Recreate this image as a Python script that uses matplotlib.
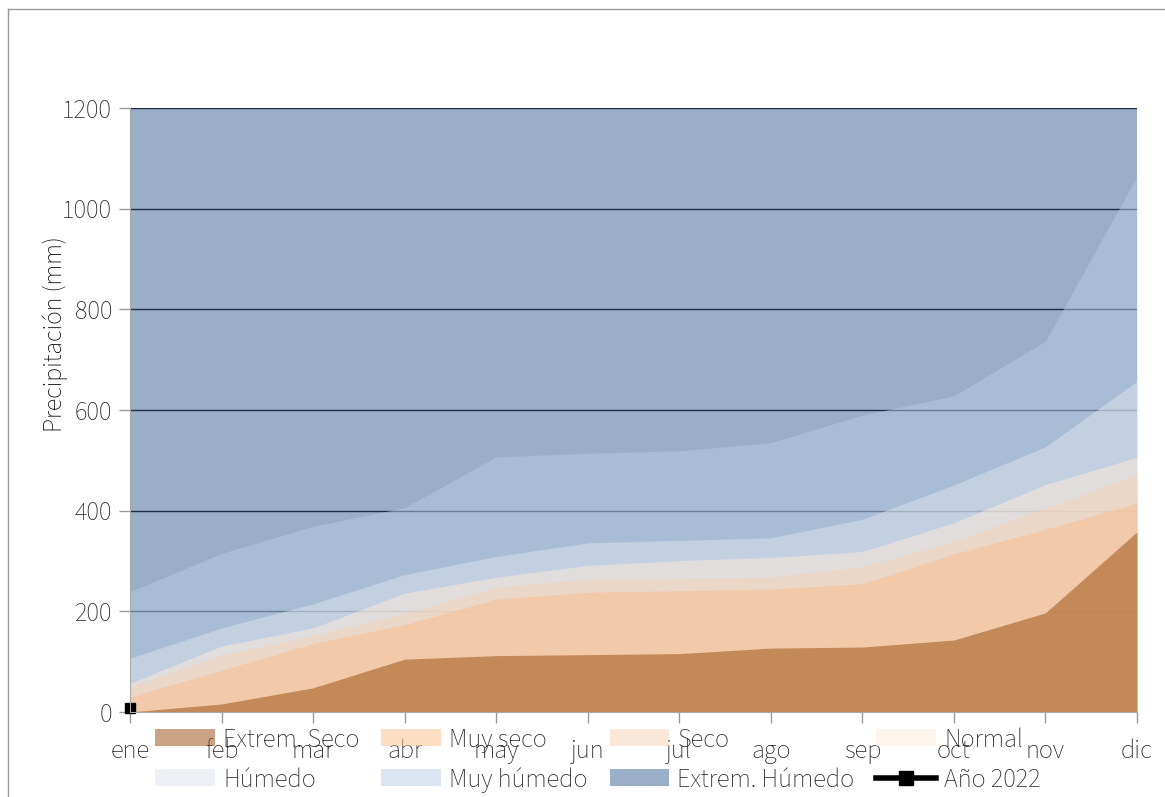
import matplotlib

matplotlib.use("Agg")
import matplotlib.pyplot as plt
from matplotlib.lines import Line2D
from matplotlib.patches import Patch

# ---------------------------------------------------------------------------
# Data (mm, each band measured from zero)
# ---------------------------------------------------------------------------

months = ["ene", "feb", "mar", "abr", "may", "jun",
          "jul", "ago", "sep", "oct", "nov", "dic"]
extrem_seco = [0, 16, 48, 105, 112, 114, 116, 127, 129, 143, 197, 358]
muy_seco = [30, 83, 136, 174, 224, 238, 241, 244, 255, 314, 363, 415]
seco = [50, 113, 152, 196, 248, 264, 265, 268, 289, 339, 406, 471]
normal = [57, 131, 167, 236, 268, 291, 301, 307, 319, 376, 452, 506]
humedo = [107, 167, 215, 273, 309, 336, 341, 346, 383, 451, 527, 657]
muy_humedo = [239, 315, 369, 406, 507, 514, 519, 535, 590, 628, 737, 1064]
extrem_humedo = [1200] * 12
anio_2022 = [7]

plt.rcParams["font.family"] = ["Source Sans 3", "DejaVu Sans"]
plt.rcParams["font.weight"] = "light"

FS = 19

fig = plt.figure(figsize=(11.65, 7.97), dpi=100)
ax = fig.add_axes([130 / 1165, 85 / 797, 1007 / 1165, 604 / 797])

x = list(range(len(months)))
layers = [
    ("Extrem. Húmedo", extrem_humedo, "#9aaec8", 1.0, 1),
    ("Muy húmedo", muy_humedo, "#b8cae4", 0.5, 3),
    ("Húmedo", humedo, "#dde4ee", 0.5, 4),
    ("Normal", normal, "#fdead8", 0.5, 5),
    ("Seco", seco, "#f4d3b5", 0.5, 6),
    ("Muy seco", muy_seco, "#fabe8b", 0.5, 7),
    ("Extrem. Seco", extrem_seco, "#96490a", 0.5, 8),
]
handles = {}
for label, vals, color, alpha, z in layers:
    ax.fill_between(x, 0, vals, color=color, alpha=alpha, lw=0, zorder=z)
    handles[label] = Patch(facecolor=color, alpha=alpha, edgecolor="none")

ax.plot(x[:len(anio_2022)], anio_2022, color="black", lw=3, marker="s",
        ms=6.5, zorder=10, clip_on=False)
handles["Año 2022"] = Line2D([], [], color="black", lw=4, marker="s", ms=10)

ax.set_xlim(0, 11)
ax.set_ylim(0, 1200)
ax.set_yticks(range(0, 1201, 200))
ax.set_xticks(x)
ax.set_xticklabels(months)
ax.set_axisbelow(False)
ax.yaxis.grid(True, color="#1f2d45", lw=1)
ax.tick_params(axis="both", colors="#999999", labelcolor="#222222",
               labelsize=FS, length=8, width=1)
ax.tick_params(axis="x", pad=11)
ax.tick_params(axis="y", pad=5)
for side in ("top", "right"):
    ax.spines[side].set_visible(False)
for side in ("left", "bottom"):
    ax.spines[side].set_color("#aaaaaa")
    ax.spines[side].set_zorder(20)
ax.set_ylabel("Precipitación (mm)", fontsize=18.5, color="black")
ax.yaxis.set_label_coords(-62 / 1007, (712 - 334) / 604)

order = ["Extrem. Seco", "Húmedo", "Muy seco", "Muy húmedo",
         "Seco", "Extrem. Húmedo", "Normal", "Año 2022"]
fig.legend([handles[k] for k in order], order, ncol=4, frameon=False,
           loc="upper left", bbox_to_anchor=(142 / 1165, 1 - 714 / 797),
           fontsize=FS, labelcolor="#222222", handlelength=2.27,
           handleheight=0.6, handletextpad=0.3, columnspacing=0.83,
           labelspacing=0.55, borderpad=0)

# frame lines
fig.add_artist(Line2D([8 / 1165, 1], [1 - 9 / 797] * 2, color="#999999", lw=1))
fig.add_artist(Line2D([8 / 1165] * 2, [0, 1 - 9 / 797], color="#999999", lw=1))

fig.savefig("out.png", dpi=100)
